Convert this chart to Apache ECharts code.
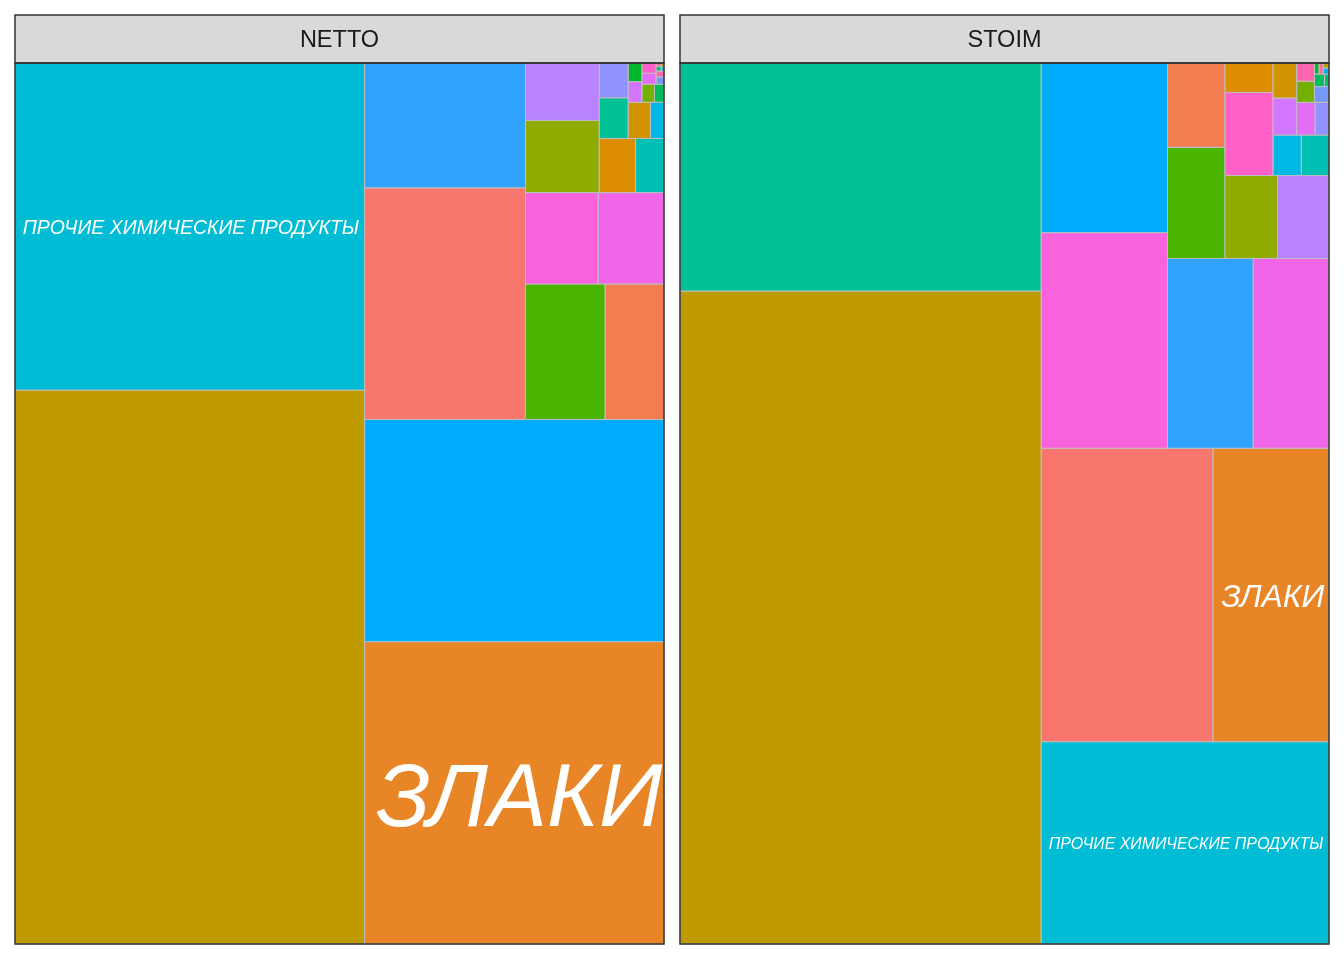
<!DOCTYPE html>
<html>
<head>
<meta charset="utf-8">
<script src="https://cdn.jsdelivr.net/npm/echarts@6/dist/echarts.min.js"></script>
<style>
  html, body { margin: 0; padding: 0; background: #ffffff; }
  #chart { width: 1344px; height: 960px; }
</style>
</head>
<body>
<div id="chart"></div>
<script>
// ---------------- DATA ----------------
const panels = ['NETTO', 'STOIM'];

const categories = [
  'ЗЛАКИ', 'ПРОЧИЕ ХИМИЧЕСКИЕ ПРОДУКТЫ',
  'Группа 03', 'Группа 04', 'Группа 05', 'Группа 06', 'Группа 07', 'Группа 08',
  'Группа 09', 'Группа 10', 'Группа 11', 'Группа 12', 'Группа 13', 'Группа 14',
  'Группа 15', 'Группа 16', 'Группа 17', 'Группа 18', 'Группа 19', 'Группа 20',
  'Группа 21', 'Группа 22', 'Группа 23', 'Группа 24', 'Группа 25', 'Группа 26',
  'Группа 27', 'Группа 28', 'Группа 29', 'Группа 30'
];

const nettoValues = [
  15820, 19989, 6512, 1393, 343, 141, 33861, 932, 39, 1889,
  45, 30, 4, 206, 269, 86, 11630, 3509, 10, 176,
  741, 50, 27, 1051, 1162, 25, 8, 3, 2, 2
];

const stoimValues = [
  5945, 10176, 8814, 847, 247, 145, 41226, 760, 65, 1116,
  9, 22, 10, 14394, 196, 200, 3746, 2843, 40, 79,
  746, 153, 105, 2512, 4759, 699, 56, 8, 6, 5
];

const labeledCategories = ['ЗЛАКИ', 'ПРОЧИЕ ХИМИЧЕСКИЕ ПРОДУКТЫ'];

// ---------------- STYLE ----------------
const categoryHues = [
  35, 205, 15, 25, 47, 57, 69, 97, 108, 120,
  132, 145, 156, 170, 186, 216, 236, 248.5, 259, 266,
  279, 291, 301, 311, 320, 332, 346, 355, 228, 80
];

function hcl2hex(h, c, l) {
  const hr = h * Math.PI / 180;
  const u = c * Math.cos(hr), v = c * Math.sin(hr);
  const Y = l > 8 ? Math.pow((l + 16) / 116, 3) : l / 903.3;
  const un = 0.1978398, vn = 0.4683363;
  const up = u / (13 * l) + un, vp = v / (13 * l) + vn;
  const X = Y * 9 * up / (4 * vp);
  const Z = Y * (12 - 3 * up - 20 * vp) / (4 * vp);
  const lin = [
    3.240479 * X - 1.537150 * Y - 0.498535 * Z,
    -0.969256 * X + 1.875992 * Y + 0.041556 * Z,
    0.055648 * X - 0.204043 * Y + 1.057311 * Z
  ];
  return '#' + lin.map(function (c) {
    let g = c <= 0.0031308 ? 12.92 * c : 1.055 * Math.pow(c, 1 / 2.4) - 0.055;
    g = Math.max(0, Math.min(1, g));
    return ('0' + Math.round(g * 255).toString(16)).slice(-2);
  }).join('');
}
const colors = categoryHues.map(function (h) { return hcl2hex(h, 100, 65); });

// ---------------- LAYOUT (squarified, unit square, origin bottom-left) ----------------
function squarify(values) {
  const total = values.reduce(function (a, b) { return a + b; }, 0);
  const items = values.map(function (v, i) { return { i: i, a: v / total }; })
    .filter(function (d) { return d.a > 0; })
    .sort(function (p, q) { return q.a - p.a; });
  function worst(row, side) {
    let s = 0, mx = 0, mn = Infinity;
    row.forEach(function (d) { s += d.a; mx = Math.max(mx, d.a); mn = Math.min(mn, d.a); });
    const s2 = side * side;
    return Math.max(s2 * mx / (s * s), (s * s) / (s2 * mn));
  }
  const rect = { x: 0, y: 0, w: 1, h: 1 };
  const out = [];
  let k = 0;
  while (k < items.length) {
    const vertical = rect.w >= rect.h;
    const side = vertical ? rect.h : rect.w;
    let row = [items[k]];
    let best = worst(row, side);
    let j = k + 1;
    while (j < items.length) {
      const cand = row.concat([items[j]]);
      const w = worst(cand, side);
      if (w <= best) { row = cand; best = w; j++; } else break;
    }
    const rowArea = row.reduce(function (a, d) { return a + d.a; }, 0);
    const thick = rowArea / side;
    let pos = vertical ? rect.y : rect.x;
    row.forEach(function (d) {
      const len = d.a / thick;
      if (vertical) out.push([rect.x, pos, rect.x + thick, pos + len, d.i]);
      else out.push([pos, rect.y, pos + len, rect.y + thick, d.i]);
      pos += len;
    });
    if (vertical) { rect.x += thick; rect.w -= thick; }
    else { rect.y += thick; rect.h -= thick; }
    k = j;
  }
  return out;
}

// ---------------- TEXT FIT ----------------
const measureCtx = document.createElement('canvas').getContext('2d');
const LABEL_FONT = '"Liberation Sans", Arial, sans-serif';
function unitWidth(text) {
  measureCtx.font = 'italic 100px ' + LABEL_FONT;
  return measureCtx.measureText(text).width / 100;
}

function renderCell(params, api) {
  const p0 = api.coord([api.value(0), api.value(1)]);
  const p1 = api.coord([api.value(2), api.value(3)]);
  const x = Math.min(p0[0], p1[0]), y = Math.min(p0[1], p1[1]);
  const w = Math.abs(p1[0] - p0[0]), h = Math.abs(p1[1] - p0[1]);
  const ci = api.value(4);
  const children = [{
    type: 'rect',
    shape: { x: x, y: y, width: w, height: h },
    style: { fill: colors[ci], stroke: '#BEBEBE', lineWidth: 1 }
  }];
  const name = categories[ci];
  if (labeledCategories.indexOf(name) >= 0) {
    const pad = 6.5;
    const fs = Math.min((w - 2 * pad) / unitWidth(name), (h - 2 * pad) / 0.75);
    children.push({
      type: 'text',
      z2: 10,
      style: {
        text: name, x: x + w / 2 + 0.055 * fs, y: y + h / 2 + 0.1 * fs,
        fill: '#ffffff', fontSize: fs, fontStyle: 'italic',
        fontFamily: LABEL_FONT, align: 'center', verticalAlign: 'middle'
      }
    });
  }
  return { type: 'group', children: children };
}

// ---------------- CHART ----------------
const panelBoxes = [
  { left: 15, top: 63, width: 649, height: 881 },
  { left: 680, top: 63, width: 649, height: 881 }
];
const stripHeight = 48;

const chart = echarts.init(document.getElementById('chart'), null, { renderer: 'canvas' });

const grids = [], xAxes = [], yAxes = [], series = [], graphics = [];
[nettoValues, stoimValues].forEach(function (vals, p) {
  const b = panelBoxes[p];
  grids.push({ left: b.left, top: b.top, width: b.width, height: b.height, containLabel: false });
  xAxes.push({ type: 'value', gridIndex: p, min: 0, max: 1, show: false });
  yAxes.push({ type: 'value', gridIndex: p, min: 0, max: 1, show: false });
  series.push({
    type: 'custom', xAxisIndex: p, yAxisIndex: p,
    renderItem: renderCell,
    encode: { x: [0, 2], y: [1, 3] },
    data: squarify(vals),
    silent: true, animation: false
  });
  graphics.push({
    type: 'rect', z: 100,
    shape: { x: b.left, y: b.top - stripHeight, width: b.width, height: stripHeight },
    style: { fill: '#D9D9D9', stroke: '#333333', lineWidth: 1.5 }
  });
  graphics.push({
    type: 'text', z: 101,
    x: b.left + b.width / 2, y: b.top - stripHeight / 2 + 2,
    style: {
      text: panels[p], fill: '#1A1A1A', fontSize: 23.5,
      fontFamily: '"Liberation Sans", Arial, sans-serif',
      align: 'center', verticalAlign: 'middle'
    }
  });
  graphics.push({
    type: 'rect', z: 100,
    shape: { x: b.left, y: b.top, width: b.width, height: b.height },
    style: { fill: 'rgba(0,0,0,0)', stroke: '#333333', lineWidth: 1.5 }
  });
});

chart.setOption({
  backgroundColor: '#ffffff',
  animation: false,
  grid: grids,
  xAxis: xAxes,
  yAxis: yAxes,
  series: series,
  graphic: graphics
});
</script>
</body>
</html>
